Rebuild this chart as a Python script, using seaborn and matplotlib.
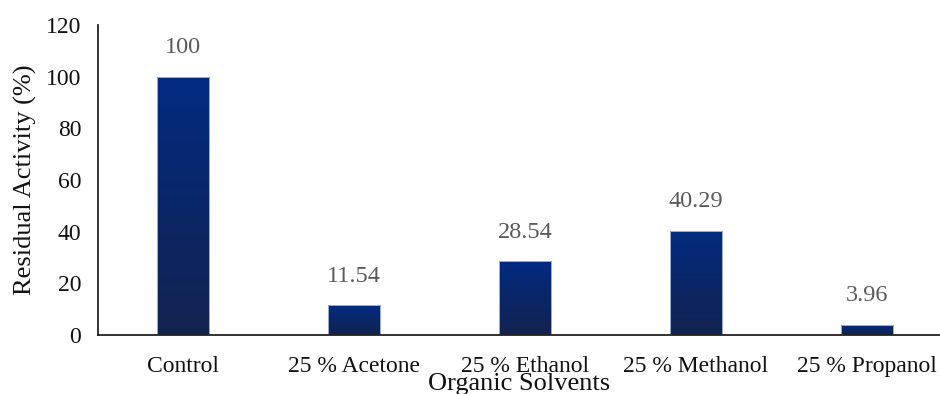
import numpy as np
import matplotlib
matplotlib.use("Agg")
import matplotlib.pyplot as plt
from matplotlib.colors import LinearSegmentedColormap
import seaborn as sns

categories = ["Control", "25 % Acetone", "25 % Ethanol", "25 % Methanol", "25 % Propanol"]
activity = [100, 11.54, 28.54, 40.29, 3.96]
value_labels = ["100", "11.54", "28.54", "40.29", "3.96"]
y_ticks = [0, 20, 40, 60, 80, 100, 120]

sns.set_theme(style="white")
plt.rcParams["font.family"] = ["Liberation Serif", "DejaVu Serif"]

fig = plt.figure(figsize=(9.4, 3.94), dpi=100)
ax = fig.add_axes([98 / 940, 59 / 394, 842 / 940, 310 / 394])

sns.barplot(x=categories, y=activity, width=0.305, color="#0a2a6e", ax=ax,
            saturation=1)

ax.set_xlim(-0.497, 4.427)
ax.set_ylim(0, 120)
ax.set_yticks(y_ticks)

# vertical navy gradient inside each bar
grad_cmap = LinearSegmentedColormap.from_list("navy", ["#12234f", "#0a2767", "#022b82"])
grad = np.linspace(0, 1, 256).reshape(-1, 1)
for patch in ax.patches:
    x0, y0 = patch.get_x(), patch.get_y()
    w, h = patch.get_width(), patch.get_height()
    im = ax.imshow(grad, extent=[x0, x0 + w, y0, y0 + h], origin="lower",
                   aspect="auto", cmap=grad_cmap, zorder=patch.get_zorder() + 0.1,
                   interpolation="bilinear")
    im.set_clip_path(patch)
    patch.set_facecolor("none")
    patch.set_edgecolor("#9fb0d6")
    patch.set_linewidth(0.7)
    patch.set_zorder(patch.get_zorder() + 0.2)

ax.set_xlim(-0.497, 4.427)
ax.set_ylim(0, 120)

# value annotations above each bar
for i, (v, lab) in enumerate(zip(activity, value_labels)):
    ax.annotate(lab, (i, v), xytext=(0, 17), textcoords="offset points",
                ha="center", va="baseline", fontsize=17.5, color="#5a5a5a")

for side in ["top", "right"]:
    ax.spines[side].set_visible(False)
for side in ["left", "bottom"]:
    ax.spines[side].set_color("#222222")
    ax.spines[side].set_linewidth(1.3)

ax.tick_params(axis="both", length=0, labelsize=17, colors="#111111")
ax.tick_params(axis="y", pad=12)
ax.tick_params(axis="x", pad=15)

ax.set_ylabel("Residual Activity (%)", fontsize=19, color="#111111")
ax.yaxis.set_label_coords(-0.073, 0.5)
ax.set_xlabel("Organic Solvents", fontsize=19, color="#111111")
ax.xaxis.set_label_coords(0.5, -0.122)
ax.xaxis.label.set_va("top")

fig.savefig("out.png", dpi=100)
